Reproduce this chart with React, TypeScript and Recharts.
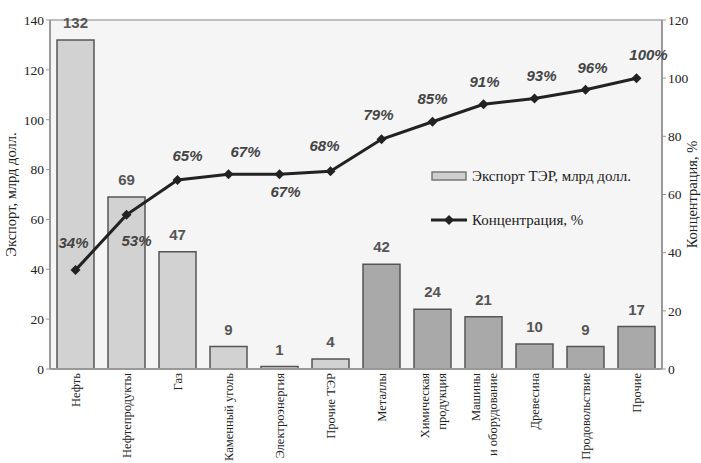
import React from 'react';
import { ComposedChart, Bar, Line, XAxis, YAxis, Cell, LabelList, CartesianGrid, ReferenceLine } from 'recharts';

const categories = ['Нефть', 'Нефтепродукты', 'Газ', 'Каменный уголь', 'Электроэнергия', 'Прочие ТЭР', 'Металлы', 'Химическая\nпродукция', 'Машины\nи оборудование', 'Древесина', 'Продовольствие', 'Прочие'];
const exportValues = [132, 69, 47, 9, 1, 4, 42, 24, 21, 10, 9, 17];
const concentration = [34, 53, 65, 67, 67, 68, 79, 85, 91, 93, 96, 100];
const isEnergy = [true, true, true, true, true, true, false, false, false, false, false, false];
const leftTicks = [0, 20, 40, 60, 80, 100, 120, 140];
const rightTicks = [0, 20, 40, 60, 80, 100, 120];

// label offsets for the percent labels (layout only)
const pctOffsets: [number, number][] = [
  [-2, -26], [10, 27], [10, -23], [17, -21], [6, 19], [-6, -24],
  [-3, -23], [0, -22], [1, -21], [7, -21], [7, -21], [12, -22],
];

const data = categories.map((c, i) => ({
  name: c,
  exp: exportValues[i],
  pct: concentration[i],
  energy: isEnergy[i],
}));

const serif = '"Liberation Serif", "Times New Roman", serif';
const sans = '"Liberation Sans", Arial, sans-serif';

const XTick = (props: any) => {
  const { x, y, payload } = props;
  const lines = String(payload.value).split('\n');
  const shift = lines.length > 1 ? -8 : 0;
  return (
    <g>
      {lines.map((l, i) => (
        <text key={i} x={0} y={0} transform={`translate(${x + shift + i * 17 + 4},${y - 4}) rotate(-90)`}
          textAnchor="end" style={{ fontFamily: serif }} fontSize={12.5} fill="#222">{l}</text>
      ))}
    </g>
  );
};

const Diamond = (props: any) => {
  const { cx, cy } = props;
  if (cx == null || cy == null) return null;
  const r = 5;
  return <path d={`M${cx},${cy - r}L${cx + r},${cy}L${cx},${cy + r}L${cx - r},${cy}Z`} fill="#222" />;
};

const PctLabel = (props: any) => {
  const { x, y, value, index } = props;
  const [dx, dy] = pctOffsets[index] || [0, -20];
  return (
    <text x={x + dx} y={y + dy} textAnchor="middle" dominantBaseline="middle" style={{ fontFamily: sans }}
      fontStyle="italic" fontWeight="bold" fontSize={15} fill="#444">{value}%</text>
  );
};

const LegendBox = () => (
  <div style={{ position: 'absolute', left: 430, top: 166, width: 260, fontFamily: serif, fontSize: 15, color: '#222' }}>
    <div style={{ display: 'flex', alignItems: 'center', height: 20 }}>
      <svg width={40} height={12}><rect x={2} y={2} width={34} height={8} fill="#cfcfcf" stroke="#777" strokeWidth={1.5} /></svg>
      <span style={{ marginLeft: 2 }}>Экспорт ТЭР, млрд долл.</span>
    </div>
    <div style={{ display: 'flex', alignItems: 'center', height: 20, marginTop: 24 }}>
      <svg width={40} height={12}><line x1={1} y1={6} x2={37} y2={6} stroke="#222" strokeWidth={3} /><path d="M19,1L24,6L19,11L14,6Z" fill="#222" /></svg>
      <span style={{ marginLeft: 2 }}>Концентрация, %</span>
    </div>
  </div>
);

const tickStyle = { fontFamily: serif, fontSize: 13.5, fill: '#222' };
const axisLabelStyle = { fontFamily: serif, fontSize: 14.5, fill: '#222', textAnchor: 'middle' as const };

export default function App() {
  return (
    <div style={{ position: 'absolute', left: 0, top: 0, width: 701, height: 463, background: '#fff' }}>
      <ComposedChart width={701} height={463} data={data} margin={{ top: 20, right: 0, bottom: 0, left: 0 }} barCategoryGap={7}>
        <CartesianGrid fill="#f5f5f5" horizontal={false} vertical={false} yAxisId="left" />
        <XAxis dataKey="name" interval={0} height={94} tick={<XTick />} tickLine={false} axisLine={{ stroke: '#999', strokeWidth: 2 }} />
        <YAxis yAxisId="left" domain={[0, 140]} ticks={leftTicks} width={50} tick={tickStyle}
          tickSize={4} tickLine={{ stroke: '#999' }} axisLine={{ stroke: '#999', strokeWidth: 2 }}
          label={{ value: 'Экспорт, млрд долл.', angle: -90, position: 'insideLeft', offset: 11, style: axisLabelStyle }} />
        <YAxis yAxisId="right" orientation="right" domain={[0, 120]} ticks={rightTicks} width={39} tick={tickStyle}
          tickSize={4} tickLine={{ stroke: '#999' }} axisLine={{ stroke: '#999', strokeWidth: 2 }}
          label={{ value: 'Концентрация, %', angle: -90, position: 'insideRight', offset: 9, style: axisLabelStyle }} />
        <ReferenceLine yAxisId="left" y={140} stroke="#aaa" strokeWidth={1.5} />
        <Bar yAxisId="left" dataKey="exp" name="Экспорт ТЭР, млрд долл." isAnimationActive={false} stroke="#555" strokeWidth={1.5}>
          {data.map((d, i) => (
            <Cell key={i} fill={d.energy ? '#d2d2d2' : '#a9a9a9'} />
          ))}
          <LabelList dataKey="exp" position="top" offset={12} style={{ fontFamily: sans, fontWeight: 'bold', fontSize: 15, fill: '#555' }} />
        </Bar>
        <Line yAxisId="right" dataKey="pct" name="Концентрация, %" stroke="#222" strokeWidth={3} dot={<Diamond />} activeDot={false} isAnimationActive={false}>
          <LabelList dataKey="pct" content={<PctLabel />} />
        </Line>
      </ComposedChart>
      <LegendBox />
    </div>
  );
}
